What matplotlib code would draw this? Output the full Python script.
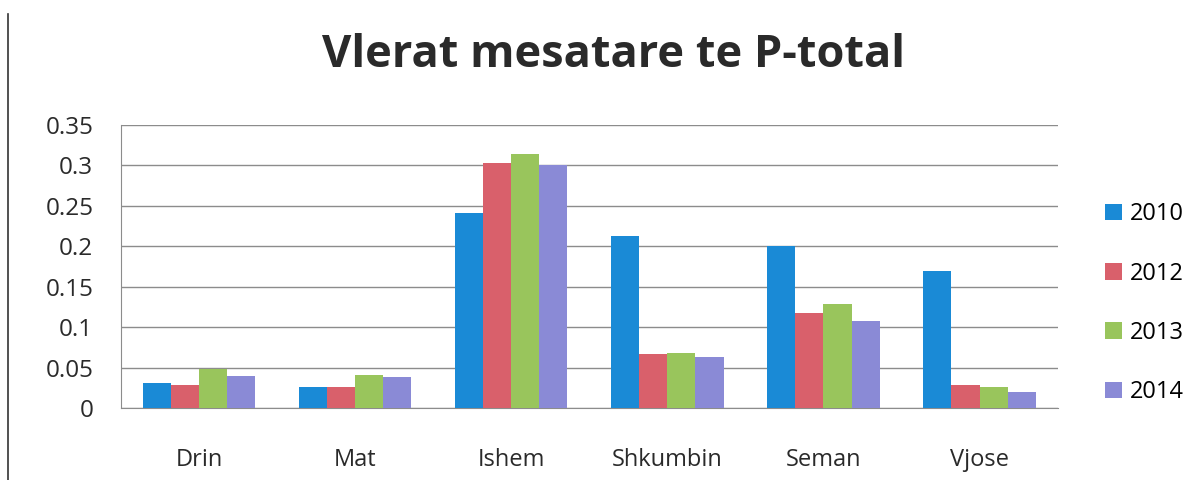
import numpy as np
import matplotlib.pyplot as plt
from matplotlib.lines import Line2D

plt.rcParams['font.family'] = ['Open Sans', 'DejaVu Sans']

# river stations and yearly mean P-total values
rivers = ['Drin', 'Mat', 'Ishem', 'Shkumbin', 'Seman', 'Vjose']
years = ['2010', '2012', '2013', '2014']
p2010 = [0.031, 0.026, 0.241, 0.213, 0.200, 0.169]
p2012 = [0.029, 0.026, 0.303, 0.067, 0.118, 0.028]
p2013 = [0.048, 0.041, 0.314, 0.068, 0.129, 0.026]
p2014 = [0.040, 0.038, 0.301, 0.063, 0.107, 0.020]
colors = ['#1a8ad6', '#d9606b', '#99c55c', '#8a8ad6']

fig = plt.figure(figsize=(11.95, 4.8), dpi=100)
ax = fig.add_axes([0.1013, 0.15, 0.7837, 0.5896])

x = np.arange(len(rivers))
w = 0.18
for i, (vals, c) in enumerate(zip([p2010, p2012, p2013, p2014], colors)):
    ax.bar(x + (i - 1.5) * w, vals, width=w, color=c, label=years[i], zorder=3)

ax.set_xlim(-0.5, len(rivers) - 0.5)
ax.set_ylim(0, 0.35)
ax.set_yticks(np.arange(0, 0.351, 0.05))
ax.set_yticklabels(['0', '0.05', '0.1', '0.15', '0.2', '0.25', '0.3', '0.35'])
ax.set_xticks(x)
ax.set_xticklabels(rivers)
ax.tick_params(axis='y', length=0, pad=20, labelsize=17.5, colors='#2a2a2a')
ax.tick_params(axis='x', length=0, pad=29, labelsize=17, colors='#2a2a2a')
ax.yaxis.grid(True, color='#8c8c8c', linewidth=1.0, zorder=0)

for s in ['top', 'right']:
    ax.spines[s].set_visible(False)
ax.spines['left'].set_color('#8c8c8c')
ax.spines['bottom'].set_color('#8c8c8c')

fig.text(0.513, 0.885, 'Vlerat mesatare te P-total', ha='center', va='center',
         fontsize=32.5, fontweight='bold', color='#2a2a2a')

ax.legend(loc='center left', bbox_to_anchor=(1.041, 0.37), frameon=False,
          fontsize=17, handlelength=0.7, handleheight=0.7, handletextpad=0.35,
          labelspacing=1.5, borderaxespad=0.0)

# page border line on the left
fig.add_artist(Line2D([0.007, 0.007], [0.0, 0.97], color='#333333', linewidth=1.2))

fig.savefig('out.png', dpi=100, facecolor='white')
